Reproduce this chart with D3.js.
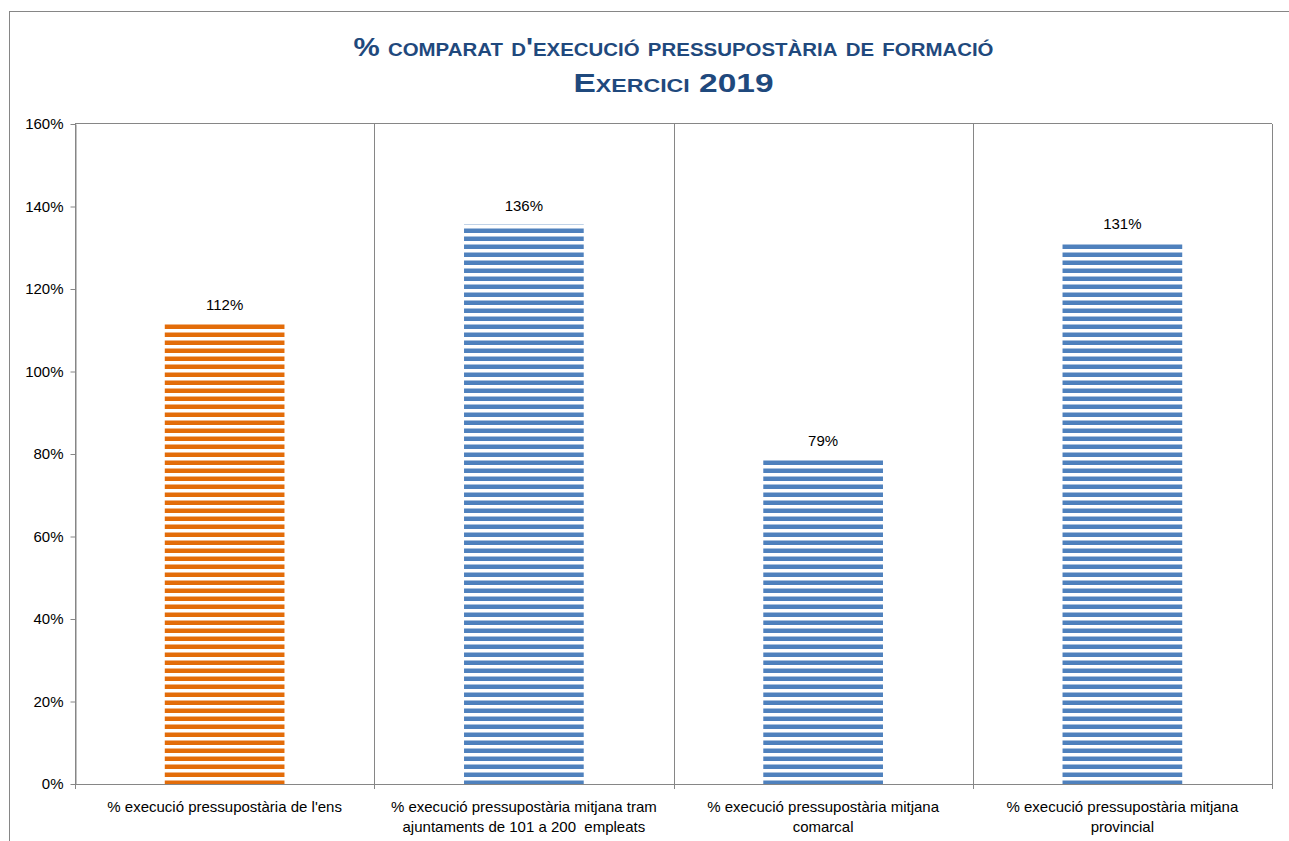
<!DOCTYPE html>
<html lang="ca">
<head>
  <meta charset="UTF-8">
  <title>% comparat d'execució pressupostària de formació</title>
  <script src="https://d3js.org/d3.v7.min.js"></script>
  <style>
    body { margin: 0; background: #fff; }
    svg { display: block; }
    text { font-family: "Liberation Sans", Arial, sans-serif; fill: #000; white-space: pre; }
  </style>
</head>
<body>
  <svg id="chart" width="1289" height="841"></svg>
  <script>
// values (fraction of budget executed)
const categories = [
  ["% execució pressupostària de l'ens"],
  ["% execució pressupostària mitjana tram", "ajuntaments de 101 a 200  empleats"],
  ["% execució pressupostària mitjana", "comarcal"],
  ["% execució pressupostària mitjana", "provincial"]
];
const values = [1.116, 1.356, 0.786, 1.312];
const barColors = ["#E36C09", "#4F81BD"]; // own entity, comparison averages
const yTicks = [0, 0.2, 0.4, 0.6, 0.8, 1.0, 1.2, 1.4, 1.6];
const titleLines = ["% comparat d'execució pressupostària de formació", "Exercici 2019"];

const svg = d3.select("#chart");
const width = +svg.attr("width");
const height = +svg.attr("height");
const margin = { top: 124, right: 17, bottom: 57, left: 75 };
const innerW = width - margin.left - margin.right;
const innerH = height - margin.top - margin.bottom;
const fmt = d3.format(".0%");

// outer chart frame
svg.append("rect")
  .attr("x", 9.5).attr("y", 11.5)
  .attr("width", width + 10).attr("height", height + 10)
  .attr("fill", "none").attr("stroke", "#868686");

// striped fills
const defs = svg.append("defs");
barColors.forEach((c, i) => {
  const p = defs.append("pattern")
    .attr("id", "stripe" + i)
    .attr("patternUnits", "userSpaceOnUse")
    .attr("width", 8).attr("height", 8);
  p.append("rect").attr("width", 8).attr("height", 8).attr("fill", "#fff");
  p.append("rect").attr("y", 0.5).attr("width", 8).attr("height", 4.5).attr("fill", c);
});

const g = svg.append("g").attr("transform", `translate(${margin.left},${margin.top})`);

const x = d3.scaleBand()
  .domain(d3.range(categories.length))
  .range([0, innerW]);

const y = d3.scaleLinear().domain([0, 1.6]).range([innerH, 0]);

// vertical separators between categories
g.selectAll(".sep")
  .data(d3.range(categories.length + 1))
  .enter().append("line")
  .attr("x1", d => Math.round(d * x.bandwidth()) + 0.5)
  .attr("x2", d => Math.round(d * x.bandwidth()) + 0.5)
  .attr("y1", 0).attr("y2", innerH + 5)
  .attr("stroke", "#868686");

// top border of plot area
g.append("line")
  .attr("x1", 0).attr("x2", innerW)
  .attr("y1", -0.5).attr("y2", -0.5)
  .attr("stroke", "#868686");

// y axis
const yAxis = g.append("g")
  .attr("transform", "translate(0.5,0)")
  .call(d3.axisLeft(y).tickValues(yTicks).tickFormat(fmt).tickSize(5).tickSizeOuter(0));
yAxis.select(".domain").attr("stroke", "#868686");
yAxis.selectAll(".tick line").attr("stroke", "#868686");
yAxis.selectAll(".tick text")
  .attr("x", -12)
  .attr("font-size", "15px")
  .attr("fill", "#000")
  .style("font-family", "'Liberation Sans', Arial, sans-serif");

// x axis baseline
g.append("line")
  .attr("x1", 0).attr("x2", innerW)
  .attr("y1", innerH + 0.5).attr("y2", innerH + 0.5)
  .attr("stroke", "#868686");

// bars
const barW = x.bandwidth() * 0.4;
g.selectAll(".bar")
  .data(values)
  .enter().append("rect")
  .attr("x", (d, i) => x(i) + (x.bandwidth() - barW) / 2)
  .attr("y", d => y(d))
  .attr("width", barW)
  .attr("height", d => innerH - y(d))
  .attr("fill", (d, i) => `url(#stripe${i === 0 ? 0 : 1})`);

// value labels
g.selectAll(".val")
  .data(values)
  .enter().append("text")
  .attr("x", (d, i) => x(i) + x.bandwidth() / 2)
  .attr("y", d => y(d) - 14)
  .attr("text-anchor", "middle")
  .attr("font-size", "15px")
  .text(d => fmt(d));

// category labels
categories.forEach((lines, i) => {
  lines.forEach((line, j) => {
    g.append("text")
      .attr("x", x(i) + x.bandwidth() / 2)
      .attr("y", innerH + 28 + j * 20)
      .attr("text-anchor", "middle")
      .attr("font-size", "15px")
      .text(line);
  });
});

// title
titleLines.forEach((t, i) => {
  svg.append("text")
    .attr("x", (margin.left + width - margin.right) / 2)
    .attr("y", 56 + i * 36)
    .attr("text-anchor", "middle")
    .attr("font-size", "26px")
    .attr("font-weight", "bold")
    .style("font-variant", "small-caps")
    .style("fill", "#1F497D")
    .attr("textLength", i === 0 ? 640 : 200)
    .attr("lengthAdjust", "spacingAndGlyphs")
    .text(t);
});
  </script>
</body>
</html>
